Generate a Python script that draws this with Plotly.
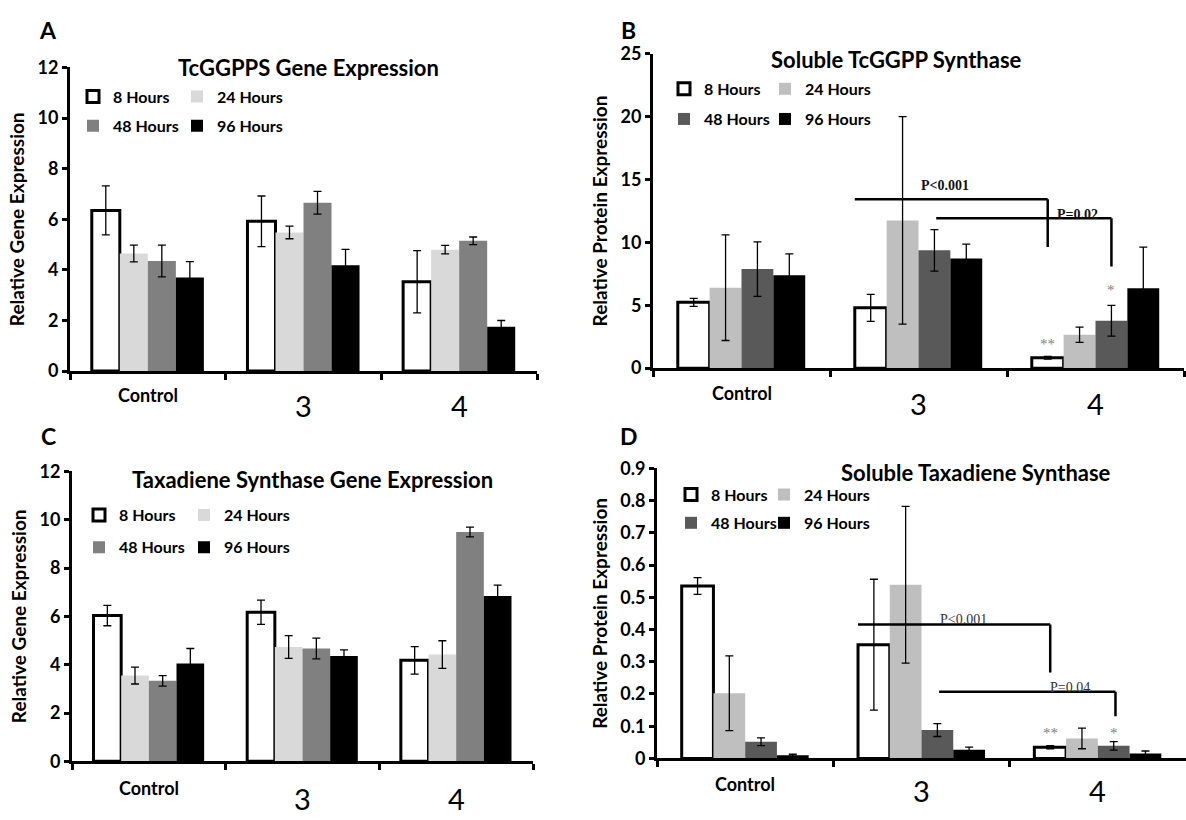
import plotly.graph_objects as go

W, H = 1186, 820
FONT = "Lato"

categories = ["Control", "3", "4"]
series_names = ["8 Hours", "24 Hours", "48 Hours", "96 Hours"]

# ---- Panel A: TcGGPPS gene expression ----
a_8h = [6.35, 5.92, 3.53]
a_8h_err = [0.97, 1.00, 1.23]
a_24h = [4.65, 5.48, 4.80]
a_24h_err = [0.33, 0.25, 0.17]
a_48h = [4.35, 6.65, 5.15]
a_48h_err = [0.63, 0.45, 0.15]
a_96h = [3.70, 4.18, 1.75]
a_96h_err = [0.63, 0.63, 0.25]

# ---- Panel B: soluble TcGGPP synthase ----
b_8h = [5.24, 4.80, 0.83]
b_8h_err = [0.32, 1.07, 0.10]
b_24h = [6.40, 11.75, 2.66]
b_24h_err = [4.20, 8.25, 0.60]
b_48h = [7.88, 9.37, 3.77]
b_48h_err = [2.17, 1.65, 1.22]
b_96h = [7.39, 8.73, 6.35]
b_96h_err = [1.70, 1.13, 3.28]

# ---- Panel C: taxadiene synthase gene expression ----
c_8h = [6.03, 6.17, 4.18]
c_8h_err = [0.42, 0.50, 0.57]
c_24h = [3.55, 4.73, 4.42]
c_24h_err = [0.35, 0.47, 0.57]
c_48h = [3.33, 4.67, 9.49]
c_48h_err = [0.22, 0.43, 0.20]
c_96h = [4.05, 4.36, 6.84]
c_96h_err = [0.62, 0.25, 0.45]

# ---- Panel D: soluble taxadiene synthase ----
d_8h = [0.535, 0.353, 0.035]
d_8h_err = [0.026, 0.203, 0.005]
d_24h = [0.202, 0.539, 0.062]
d_24h_err = [0.116, 0.243, 0.032]
d_48h = [0.052, 0.088, 0.039]
d_48h_err = [0.012, 0.020, 0.013]
d_96h = [0.010, 0.027, 0.015]
d_96h_err = [0.003, 0.008, 0.008]

# significance brackets (category-index x, data y)
b_sig_labels = ["P<0.001", "P=0.02"]
b_sig_x_start = [0.64, 1.10]
b_sig_x_end = [1.73, 2.09]
b_sig_y_line = [13.43, 11.93]
b_sig_y_drop = [9.63, 8.08]
b_sig_label_x = [1.15, 1.90]
b_sig_label_y = [14.54, 12.24]
b_star_text = ["**", "*"]
b_star_x = [1.73, 2.09]
b_star_y = [1.9, 6.2]

d_sig_labels = ["P<0.001", "P=0.04"]
d_sig_x_start = [0.64, 1.10]
d_sig_x_end = [1.73, 2.10]
d_sig_y_line = [0.416, 0.207]
d_sig_y_drop = [0.267, 0.131]
d_sig_label_x = [1.24, 1.84]
d_sig_label_y = [0.430, 0.220]
d_star_text = ["**", "*"]
d_star_x = [1.73, 2.09]
d_star_y = [0.078, 0.078]


def px(x):
    return x / W


def py(y):
    return 1 - y / H


panels = [
    dict(letter="A", title="TcGGPPS Gene Expression", ytitle="Relative Gene Expression",
         data=[(a_8h, a_8h_err), (a_24h, a_24h_err), (a_48h, a_48h_err), (a_96h, a_96h_err)],
         colors=["#ffffff", "#d9d9d9", "#808080", "#000000"],
         xdom=(70, 537), ydom=(57, 369), yrange=[0, 12], dtick=2,
         letter_pos=(48, 19), title_pos=(308, 57),
         legend_x=73, legend_rows=(87, 117), entry=59,
         cat_y=(394, 404)),
    dict(letter="B", title="Soluble TcGGPP Synthase", ytitle="Relative Protein Expression",
         data=[(b_8h, b_8h_err), (b_24h, b_24h_err), (b_48h, b_48h_err), (b_96h, b_96h_err)],
         colors=["#ffffff", "#bfbfbf", "#595959", "#000000"],
         xdom=(653, 1184), ydom=(43, 366), yrange=[0, 25], dtick=5,
         letter_pos=(628, 18), title_pos=(897, 49),
         legend_x=664, legend_rows=(79, 110), entry=56,
         cat_y=(392, 402)),
    dict(letter="C", title="Taxadiene Synthase Gene Expression", ytitle="Relative Gene Expression",
         data=[(c_8h, c_8h_err), (c_24h, c_24h_err), (c_48h, c_48h_err), (c_96h, c_96h_err)],
         colors=["#ffffff", "#d9d9d9", "#808080", "#000000"],
         xdom=(72, 533), ydom=(472, 770), yrange=[0, 12], dtick=2,
         letter_pos=(48, 436), title_pos=(312, 480),
         legend_x=79, legend_rows=(517, 550), entry=60,
         cat_y=(797, 808)),
    dict(letter="D", title="Soluble Taxadiene Synthase", ytitle="Relative Protein Expression",
         data=[(d_8h, d_8h_err), (d_24h, d_24h_err), (d_48h, d_48h_err), (d_96h, d_96h_err)],
         colors=["#ffffff", "#bfbfbf", "#595959", "#000000"],
         xdom=(657, 1186), ydom=(469, 767), yrange=[0, 0.9], dtick=0.1,
         letter_pos=(629, 436), title_pos=(976, 473),
         legend_x=671, legend_rows=(496, 525), entry=48,
         cat_y=(793, 800)),
]

fig = go.Figure()
layout = dict(
    width=W, height=H, margin=dict(l=0, r=0, t=0, b=0),
    paper_bgcolor="white", plot_bgcolor="white",
    barmode="group", bargap=0.28, bargroupgap=0,
    font=dict(family=FONT, color="black"),
    showlegend=True,
)
annotations = []
shapes = []

for i, p in enumerate(panels):
    n = i + 1
    xa = "x" if n == 1 else f"x{n}"
    ya = "y" if n == 1 else f"y{n}"
    leg_r1 = "legend" if n == 1 else f"legend{2 * n - 1}"
    leg_r2 = f"legend{2 * n}"
    for j, (vals, errs) in enumerate(p["data"]):
        fig.add_trace(go.Bar(
            x=categories, y=vals, name=series_names[j],
            xaxis=xa, yaxis=ya,
            legend=leg_r1 if j < 2 else leg_r2,
            legendwidth=p["entry"] if j % 2 == 0 else 90,
            marker=dict(color=p["colors"][j],
                        line=dict(color="black", width=3 if j == 0 else 0)),
            error_y=dict(type="data", array=errs, visible=True, color="black",
                         thickness=1.3, width=4),
        ))
    for k, leg in enumerate([leg_r1, leg_r2]):
        layout[leg] = dict(
            orientation="h", x=px(p["legend_x"]), xanchor="left",
            y=py(p["legend_rows"][k]), yanchor="middle",
            bgcolor="rgba(0,0,0,0)",
            font=dict(family=FONT, size=16, weight="bold", color="black"),
            traceorder="normal", itemclick=False, itemdoubleclick=False,
        )
    xkey = "xaxis" if n == 1 else f"xaxis{n}"
    ykey = "yaxis" if n == 1 else f"yaxis{n}"
    layout[xkey] = dict(
        domain=[px(p["xdom"][0]), px(p["xdom"][1])], anchor=ya,
        type="category", categoryorder="array", categoryarray=categories,
        range=[-0.5, len(categories) - 0.5],
        showline=True, linecolor="black", linewidth=3,
        ticks="outside", tickson="boundaries", ticklen=6, tickwidth=3, tickcolor="black",
        showticklabels=False, showgrid=False, zeroline=False, fixedrange=True,
    )
    layout[ykey] = dict(
        domain=[py(p["ydom"][1]), py(p["ydom"][0])], anchor=xa,
        range=p["yrange"], dtick=p["dtick"], tick0=0,
        showline=True, linecolor="black", linewidth=3,
        ticks="outside", ticklen=5, tickwidth=3, tickcolor="black",
        tickfont=dict(family=FONT, size=18, weight="bold", color="black"),
        showgrid=False, zeroline=False, fixedrange=True,
        title=dict(text=p["ytitle"], standoff=8,
                   font=dict(family=FONT, size=19, weight="bold", color="black")),
    )
    # panel letter
    annotations.append(dict(text=p["letter"], xref="paper", yref="paper",
                            x=px(p["letter_pos"][0]), y=py(p["letter_pos"][1]),
                            xanchor="center", yanchor="middle", showarrow=False,
                            font=dict(family=FONT, size=23, weight="bold")))
    # title
    annotations.append(dict(text=p["title"], xref="paper", yref="paper",
                            x=px(p["title_pos"][0]), y=py(p["title_pos"][1]),
                            xanchor="center", yanchor="middle", showarrow=False,
                            font=dict(family=FONT, size=22, weight="bold")))
    # category labels
    for ci, c in enumerate(categories):
        is_ctrl = c == "Control"
        annotations.append(dict(text=c, xref=xa, yref="paper", x=ci,
                                y=py(p["cat_y"][0] if is_ctrl else p["cat_y"][1]),
                                xanchor="center", yanchor="middle", showarrow=False,
                                font=dict(family=FONT, size=18 if is_ctrl else 29,
                                          weight="bold" if is_ctrl else "normal")))


def add_sig(xa, ya, labels, xs, xe, yl, yd, lx, ly, stext, sx, sy, bold):
    for k in range(len(labels)):
        shapes.append(dict(type="line", xref=xa, yref=ya, x0=xs[k], x1=xe[k],
                           y0=yl[k], y1=yl[k], line=dict(color="black", width=2.5)))
        shapes.append(dict(type="line", xref=xa, yref=ya, x0=xe[k], x1=xe[k],
                           y0=yl[k], y1=yd[k], line=dict(color="black", width=2.5)))
        annotations.append(dict(text=labels[k], xref=xa, yref=ya, x=lx[k], y=ly[k],
                                xanchor="center", yanchor="middle", showarrow=False,
                                font=dict(family="Liberation Serif", size=14,
                                          weight="bold" if bold else "normal",
                                          color="#111111" if bold else "#333333")))
    for k in range(len(stext)):
        annotations.append(dict(text=stext[k], xref=xa, yref=ya, x=sx[k], y=sy[k],
                                xanchor="center", yanchor="middle", showarrow=False,
                                font=dict(family="Liberation Serif", size=15, color="#808080")))


add_sig("x2", "y2", b_sig_labels, b_sig_x_start, b_sig_x_end, b_sig_y_line, b_sig_y_drop,
        b_sig_label_x, b_sig_label_y, b_star_text, b_star_x, b_star_y, True)
add_sig("x4", "y4", d_sig_labels, d_sig_x_start, d_sig_x_end, d_sig_y_line, d_sig_y_drop,
        d_sig_label_x, d_sig_label_y, d_star_text, d_star_x, d_star_y, False)

layout["annotations"] = annotations
layout["shapes"] = shapes
fig.update_layout(**layout)
fig.write_html("out.html")
